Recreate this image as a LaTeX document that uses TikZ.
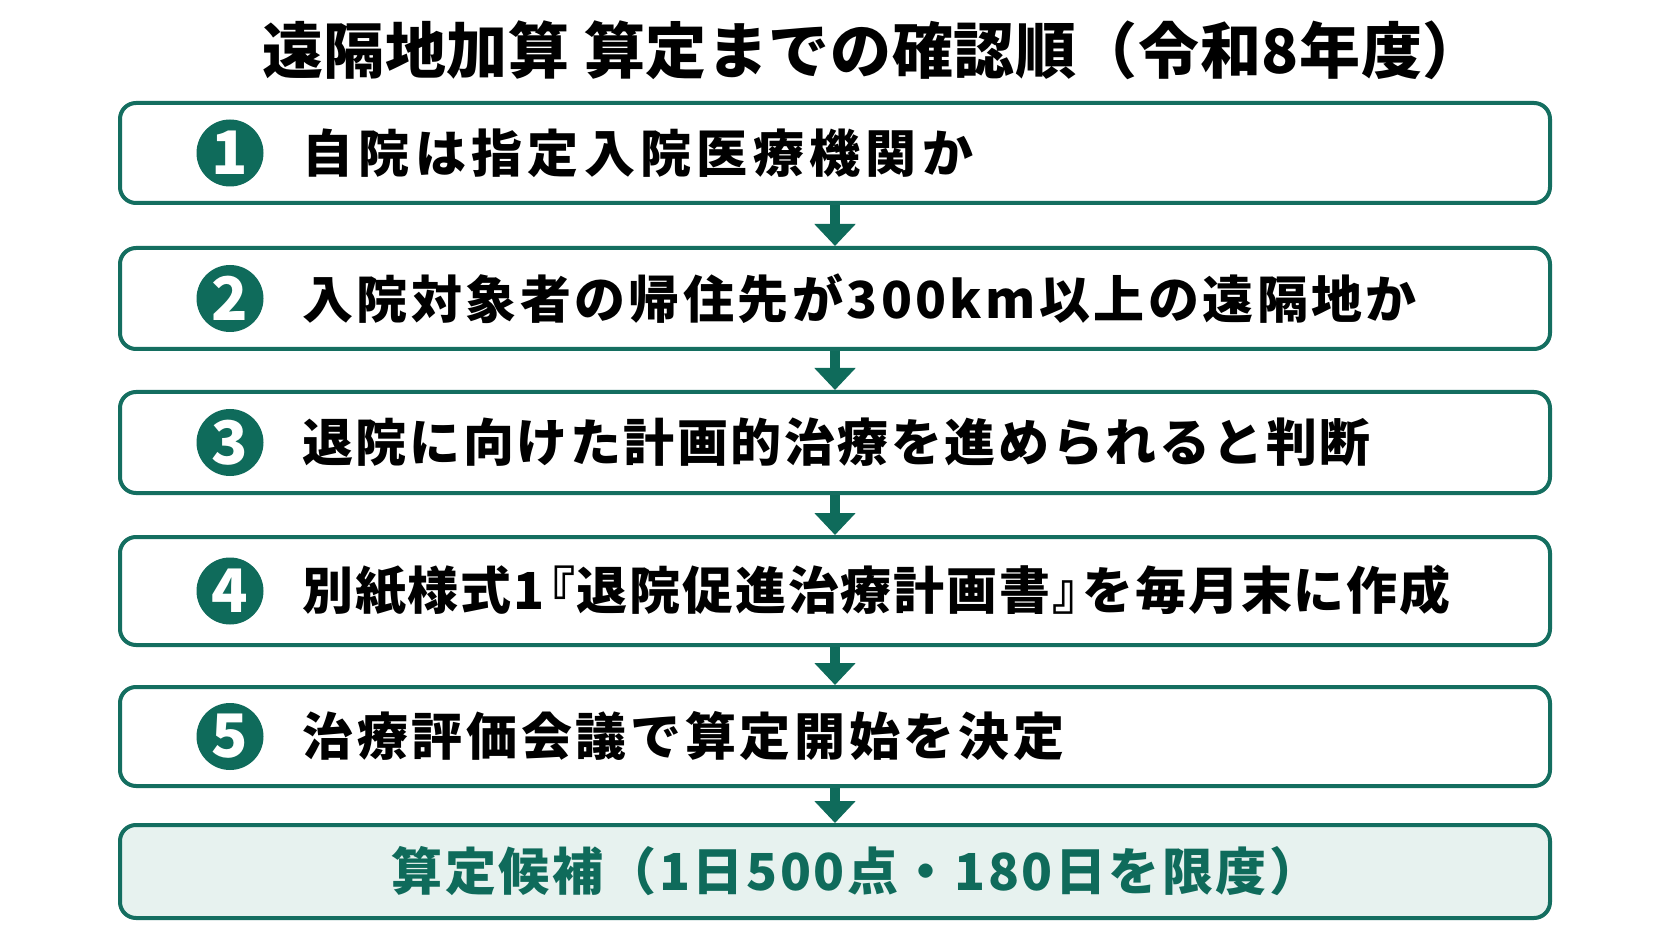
\documentclass[tikz,border=0pt]{standalone}
\usepackage{fontspec}
\usetikzlibrary{arrows.meta}
\setmainfont{Noto Sans CJK JP}
\newfontfamily\jpstep{Noto Sans CJK JP}[LetterSpace=5]
\newfontfamily\jptitle{Noto Sans CJK JP}[LetterSpace=1]
\newfontfamily\jpnum{Noto Sans CJK JP}
\definecolor{tealline}{HTML}{146E60}
\definecolor{tealdot}{HTML}{0F6B5B}
\definecolor{tealfill}{HTML}{E7F2EF}
\newcommand\lsp[1]{\addfontfeatures{LetterSpace=#1}}
\begin{document}
\begin{tikzpicture}[x=0.5pt,y=-0.5pt]
\tikzset{
  stepbox/.style={draw=tealline, line width=2pt, rounded corners=8pt, fill=white, minimum width=715pt, inner sep=0pt},
  endbox/.style={stepbox, fill=tealfill},
  numdot/.style={circle, fill=tealdot, minimum size=33.5pt, inner sep=0pt, text=white, font=\jpnum\bfseries\fontsize{30}{30}\selectfont},
  steptext/.style={anchor=west, inner sep=0pt, font=\jpstep\bfseries\fontsize{25.5}{25.5}\selectfont},
  endtext/.style={inner sep=0pt, text=tealdot, font=\jpstep\bfseries\fontsize{25.5}{25.5}\selectfont},
  titletext/.style={inner sep=0pt, font=\jptitle\bfseries\fontsize{30.5}{30.5}\selectfont},
  flowarrow/.style={-{Triangle[width=20pt,length=11pt]}, line width=5pt, draw=tealdot},
}
\path[use as bounding box] (0,0) rectangle (1672,941);
\fill[white] (0,0) rectangle (1672,941);

\node[titletext] (title) at (873,50) {遠隔地加算 算定までの確認順（令和8年度）};

\node[stepbox, minimum height=50pt] (b1) at (835,153) {};
\node[stepbox, minimum height=50.5pt] (b2) at (835,298.5) {};
\node[stepbox, minimum height=50.5pt] (b3) at (835,442.5) {};
\node[stepbox, minimum height=54pt] (b4) at (835,591) {};
\node[stepbox, minimum height=49.5pt] (b5) at (835,736.5) {};
\node[endbox, minimum height=46.5pt] (b6) at (835,871.5) {};

\node[numdot] (n1) at (230,153) {1};
\node[numdot] (n2) at (230,298.5) {2};
\node[numdot] (n3) at (230,442.5) {3};
\node[numdot] (n4) at (230,591) {4};
\node[numdot] (n5) at (230,736.5) {5};

\node[steptext] (t1) at (302,153) {\lsp{10.5}自院は指定入院医療機関か};
\node[steptext] (t2) at (302,298.5) {\lsp{6.7}入院対象者の帰住先が300km以上の遠隔地か};
\node[steptext] (t3) at (302,442.5) {退院に向けた計画的治療を進められると判断};
\node[steptext] (t4) at (302,591) {\lsp{3.5}別紙様式1\kern-0.4em『退院促進治療計画書』\kern-0.4em を毎月末に作成};
\node[steptext] (t5) at (302,736.5) {\lsp{7.2}治療評価会議で算定開始を決定};
\node[endtext] (t6) at (856,871.5) {算定候補（1日500点・180日を限度）};

\draw[flowarrow] (b1.south) -- (b2.north);
\draw[flowarrow] (b2.south) -- (b3.north);
\draw[flowarrow] (b3.south) -- (b4.north);
\draw[flowarrow] (b4.south) -- (b5.north);
\draw[flowarrow] (b5.south) -- (b6.north);
\end{tikzpicture}
\end{document}
